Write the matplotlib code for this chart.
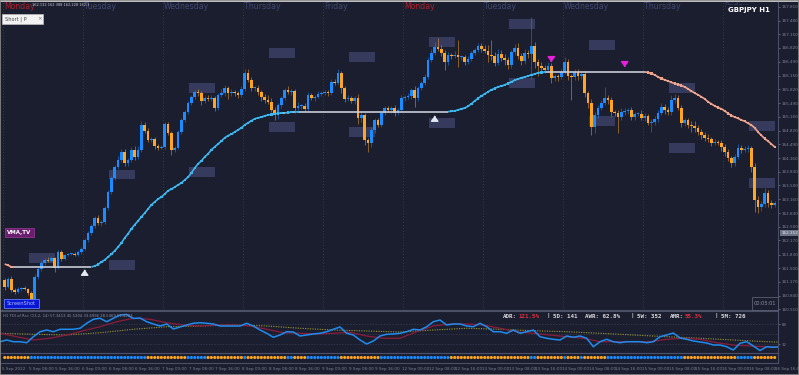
import numpy as np
import matplotlib
matplotlib.use("Agg")
import matplotlib.pyplot as plt
from matplotlib.patches import Rectangle
from matplotlib.collections import LineCollection

W, H = 799, 375
BG = "#1b1e2e"
GRID = "#363b55"
TXT = "#7d8296"
BULL = "#1a8cff"
BEAR = "#ffa51f"

# GBPJPY H1, 5 Sep 2022 00:00 -> 16 Sep 2022 15:00 (closes)
first_open = 161.22
closes = [
    # Mon 5 Sep
    161.05, 161.24, 160.98, 160.93, 161.00, 161.02, 161.00, 160.90, 160.73, 161.29, 161.48, 161.63,
    161.70, 161.68, 161.75, 161.51, 161.89, 161.72, 161.82, 161.84, 161.84, 161.83, 161.89, 161.97,
    # Tue 6 Sep
    162.18, 162.35, 162.52, 162.71, 162.59, 162.62, 162.96, 163.34, 163.68, 163.95, 164.12, 164.31,
    164.04, 164.12, 164.36, 164.19, 164.36, 164.96, 164.82, 164.60, 164.62, 164.45, 164.41, 164.43,
    # Wed 7 Sep
    164.98, 164.77, 164.36, 164.41, 164.79, 165.08, 165.27, 165.49, 165.64, 165.76, 165.73, 165.54,
    165.61, 165.59, 165.61, 165.37, 165.69, 165.73, 165.85, 165.73, 165.76, 165.73, 165.69, 165.83,
    # Thu 8 Sep
    166.22, 166.05, 165.85, 165.85, 165.76, 165.64, 165.57, 165.52, 165.32, 165.20, 165.44, 165.61,
    165.81, 165.76, 165.78, 165.37, 165.42, 165.42, 165.35, 165.69, 165.61, 165.64, 165.71, 165.73,
    # Fri 9 Sep
    165.76, 165.73, 166.00, 165.98, 166.22, 165.85, 165.59, 165.61, 165.54, 165.61, 165.13, 165.20,
    164.60, 164.53, 164.84, 165.08, 164.96, 165.25, 165.37, 165.32, 165.37, 165.25, 165.32, 165.61,
    # Mon 12 Sep
    165.64, 165.66, 165.81, 165.61, 165.85, 165.98, 166.12, 166.53, 166.70, 166.84, 166.80, 166.70,
    166.48, 166.65, 166.63, 166.65, 166.60, 166.60, 166.48, 166.56, 166.70, 166.77, 166.87, 166.80,
    # Tue 13 Sep
    166.75, 166.65, 166.63, 166.46, 166.68, 166.58, 166.53, 166.41, 166.72, 166.82, 166.63, 166.51,
    166.70, 166.68, 166.87, 166.48, 166.39, 166.34, 166.29, 166.39, 166.10, 166.14, 166.12, 166.24,
    # Wed 14 Sep
    166.48, 166.14, 166.12, 166.24, 166.14, 166.19, 165.73, 165.49, 164.91, 165.20, 165.37, 165.49,
    165.61, 165.57, 165.27, 165.25, 165.15, 165.27, 165.30, 165.32, 165.15, 165.23, 165.23, 165.13,
    # Thu 15 Sep
    165.18, 165.01, 165.03, 165.11, 165.25, 165.40, 165.32, 165.27, 165.57, 165.61, 165.37, 165.01,
    165.08, 164.96, 164.94, 164.89, 164.79, 164.72, 164.65, 164.62, 164.53, 164.55, 164.53, 164.43,
    # Fri 16 Sep
    164.31, 164.16, 164.04, 164.19, 164.41, 164.36, 164.38, 164.41, 163.95, 163.15, 162.98, 163.05,
    163.32, 163.08, 163.03, 163.08,
]
# wick lengths above / below the body, in pips
wick_up = [
    5, 4, 6, 3, 4, 3, 4, 3, 5, 6, 5, 4, 4, 6, 5, 3, 6, 4, 3, 3, 3, 4, 4, 5,
    4, 6, 5, 6, 8, 5, 5, 6, 4, 5, 8, 6, 7, 5, 6, 10, 8, 9, 6, 7, 5, 6, 5, 4,
    6, 5, 4, 4, 5, 4, 4, 6, 5, 4, 8, 5, 6, 7, 8, 6, 5, 10, 7, 5, 6, 5, 4, 6,
    8, 10, 6, 5, 8, 5, 6, 12, 10, 8, 5, 6, 5, 8, 5, 4, 9, 5, 8, 6, 5, 4, 6, 4,
    4, 5, 8, 6, 10, 5, 6, 8, 5, 6, 10, 8, 6, 5, 8, 5, 6, 5, 4, 5, 4, 6, 5, 8,
    5, 6, 5, 8, 4, 5, 6, 8, 10, 12, 22, 10, 6, 8, 6, 10, 36, 6, 5, 6, 5, 6, 8, 6,
    8, 15, 36, 10, 12, 8, 10, 8, 6, 10, 12, 8, 10, 8, 70, 10, 8, 8, 6, 8, 6, 5, 4, 6,
    12, 8, 6, 8, 6, 6, 8, 6, 10, 8, 6, 8, 27, 8, 6, 6, 8, 10, 6, 5, 8, 5, 4, 8,
    6, 5, 8, 6, 8, 10, 6, 8, 12, 10, 8, 6, 5, 6, 10, 12, 6, 8, 6, 8, 5, 6, 4, 6,
    6, 8, 5, 8, 10, 6, 8, 6, 5, 8, 10, 8, 12, 8, 6, 5,
]
wick_dn = [
    8, 4, 5, 6, 3, 4, 3, 4, 7, 5, 4, 4, 5, 4, 4, 10, 4, 5, 3, 3, 3, 3, 3, 4,
    4, 5, 6, 4, 5, 8, 5, 6, 5, 6, 5, 6, 8, 6, 5, 8, 6, 5, 6, 5, 4, 8, 5, 4,
    5, 6, 12, 6, 4, 4, 5, 4, 5, 6, 6, 10, 5, 6, 6, 8, 6, 5, 6, 14, 8, 6, 7, 5,
    6, 5, 6, 7, 8, 10, 8, 6, 5, 12, 10, 6, 5, 5, 8, 12, 6, 8, 6, 5, 5, 6, 4, 5,
    5, 6, 5, 6, 5, 12, 8, 6, 5, 8, 15, 10, 12, 22, 10, 8, 6, 5, 6, 5, 6, 8, 5, 5,
    6, 5, 8, 22, 6, 5, 6, 5, 6, 5, 6, 8, 19, 6, 8, 6, 24, 8, 6, 5, 6, 5, 4, 8,
    6, 17, 10, 8, 6, 8, 12, 10, 8, 6, 8, 10, 8, 10, 60, 15, 25, 10, 8, 6, 12, 8, 10, 6,
    6, 10, 55, 8, 10, 6, 10, 12, 20, 15, 8, 6, 6, 10, 10, 8, 39, 8, 6, 8, 8, 6, 5, 6,
    8, 6, 22, 6, 8, 6, 10, 8, 6, 8, 6, 10, 8, 8, 15, 10, 8, 10, 8, 6, 8, 6, 5, 10,
    10, 8, 10, 6, 6, 8, 6, 8, 12, 29, 15, 10, 8, 10, 8, 6,
]

# VMA line, one value per bar
vma = ([161.60, 161.57] + [161.53] * 25 +
       [161.55, 161.59, 161.65, 161.70, 161.77, 161.84, 161.92, 162.01, 162.11, 162.23, 162.33, 162.45,
        162.55, 162.64, 162.74, 162.83, 162.93, 163.03, 163.10, 163.17, 163.22, 163.29, 163.37, 163.41,
        163.46, 163.51, 163.56, 163.63, 163.70, 163.80, 163.92, 164.02, 164.09, 164.19, 164.26, 164.36,
        164.43, 164.50, 164.57, 164.65, 164.70, 164.74, 164.79, 164.84, 164.89, 164.96, 165.01, 165.06,
        165.11, 165.13, 165.15, 165.18, 165.20, 165.21, 165.23, 165.24, 165.25, 165.25, 165.26, 165.27,
        165.27] +
       [165.28] * 46 +
       [165.29, 165.30, 165.32, 165.35, 165.37, 165.41, 165.47, 165.54, 165.60, 165.66, 165.71, 165.76,
        165.81, 165.84, 165.88, 165.90, 165.93, 165.96, 166.00, 166.04, 166.07, 166.10, 166.12, 166.14,
        166.17, 166.19, 166.22, 166.23] +
       [166.24] * 31 +
       [166.23, 166.20, 166.17, 166.12, 166.08, 166.05, 166.02, 165.99, 165.96, 165.94, 165.91, 165.88,
        165.83, 165.78, 165.73, 165.69, 165.64, 165.59, 165.52, 165.47, 165.42, 165.38, 165.35, 165.30,
        165.24, 165.19, 165.15, 165.12, 165.08, 165.05, 165.00, 164.96, 164.89, 164.79, 164.71, 164.63,
        164.57, 164.50, 164.43])

# session boxes (day index, top, bottom)
box_day = [0, 1, 1, 2, 2, 3, 3, 4, 4, 5, 5, 6, 6, 7, 7, 8, 8, 9, 9]
box_top = [161.87, 163.87, 161.70, 165.98, 163.95, 166.82, 165.03, 166.72, 164.91, 167.09,
           165.13, 167.52, 166.10, 167.01, 165.18, 165.98, 164.53, 165.06, 163.68]
box_bot = [161.63, 163.66, 161.46, 165.73, 163.70, 166.58, 164.79, 166.48, 164.67, 166.84,
           164.89, 167.28, 165.85, 166.77, 164.94, 165.73, 164.28, 164.82, 163.44]

up_bars, up_prices = [24, 129], [161.46, 165.18]
dn_bars, dn_prices = [164, 186], [166.48, 166.36]

day_names = ["Monday", "Tuesday", "Wednesday", "Thursday", "Friday",
             "Monday", "Tuesday", "Wednesday", "Thursday", "Friday"]
day_dates = [5, 6, 7, 8, 9, 12, 13, 14, 15, 16]
price_ticks = [167.810, 167.480, 167.150, 166.820, 166.490, 166.150, 165.820, 165.490, 165.160,
               164.820, 164.490, 164.160, 163.830, 163.500, 163.160, 162.830, 162.500, 162.170,
               161.830, 161.500, 161.170, 160.840, 160.510]

# TDI of RSI
tdi_rsi = [36.1, 39.2, 36.1, 36.1, 34.3, 45.1, 54.1, 57.2, 54.1, 58.5, 58.5, 58.5, 60.3, 69.3, 76.5,
           78.3, 72.1, 78.3, 84.2, 85.1, 77.9, 78.8, 72.1, 68.0, 64.4, 68.0, 59.0, 62.6, 66.2, 69.3,
           70.3, 69.3, 68.0, 64.4, 64.4, 64.4, 64.4, 69.3, 64.4, 57.2, 51.3, 44.1, 48.2, 54.1, 53.6,
           46.4, 48.2, 50.0, 51.3, 54.1, 58.5, 62.6, 51.3, 48.2, 39.2, 32.0, 37.4, 46.4, 49.5, 50.0,
           51.3, 54.1, 58.5, 57.2, 63.1, 72.1, 75.2, 66.2, 68.0, 68.0, 64.4, 63.1, 69.3, 63.1, 54.1,
           54.1, 51.3, 57.2, 51.3, 54.1, 57.2, 45.1, 42.3, 40.5, 39.2, 46.4, 44.1, 46.4, 42.3, 27.1,
           36.1, 40.5, 36.1, 34.3, 36.1, 36.1, 36.1, 34.3, 36.1, 45.1, 48.2, 51.8, 42.8, 40.5, 37.4,
           35.6, 33.8, 30.2, 30.2, 27.1, 21.2, 33.3, 36.1, 28.4, 20.3, 27.1, 26.1, 27.1]
tdi_signal = [51.3, 45.1, 39.2, 42.3, 48.2, 55.9, 63.1, 72.1, 78.3, 76.5, 70.3, 66.2, 64.4, 66.2,
              66.2, 64.4, 58.5, 52.3, 51.3, 50.0, 51.3, 53.1, 46.4, 42.3, 42.3, 54.1, 64.4, 68.0,
              68.0, 66.2, 60.3, 54.1, 51.3, 48.2, 45.1, 42.3, 36.1, 36.1, 36.1, 36.1, 40.5, 42.3,
              40.5, 34.3, 30.2, 28.4, 27.1, 27.1]
tdi_base = [51.3, 49.5, 48.2, 52.3, 58.5, 63.1, 64.4, 66.2, 64.4, 60.3, 57.2, 55.4, 53.6, 57.2,
            60.3, 58.5, 55.9, 54.1, 51.3, 48.2, 45.1, 42.3, 39.2, 36.1, 34.3]

# trend dots under the TDI panel: (colour, number of bars)
dot_runs = [("o", 8), ("b", 35), ("o", 12), ("b", 6), ("o", 11), ("b", 1), ("o", 12), ("b", 2),
            ("o", 4), ("b", 10), ("o", 12), ("b", 21), ("o", 24), ("b", 2), ("o", 8), ("b", 1),
            ("o", 4), ("b", 1), ("o", 7), ("b", 23), ("o", 16), ("b", 5), ("o", 7)]


def frac(x0, y0, x1, y1):
    return [x0 / W, 1 - y1 / H, (x1 - x0) / W, (y1 - y0) / H]


def ftext(x, y, s, **kw):
    fig.text(x / W, 1 - y / H, s, **kw)


def fbox(x0, y0, x1, y1, **kw):
    fig.add_artist(Rectangle((x0 / W, 1 - y1 / H), (x1 - x0) / W, (y1 - y0) / H,
                             transform=fig.transFigure, **kw))


fig = plt.figure(figsize=(W / 100, H / 100), dpi=100, facecolor=BG)
XL = (-1.41, 232.0)

# ---------- main price panel ----------
ax = fig.add_axes(frac(0, 2, 778, 310))
ax.set_facecolor(BG)
ax.set_xlim(*XL)
ax.set_ylim(160.49, 167.93)

for d in range(10):
    red = d in (0, 5)
    ax.axvline(24 * d - 0.5, color="#7a1f2c" if red else GRID, ls=(0, (1, 2)), lw=0.7, zorder=1)
    ax.text(24 * d - 0.2, 0.999, day_names[d], transform=ax.get_xaxis_transform(),
            ha="left", va="top", fontsize=5.6, color="#b0202c" if red else "#404870")

for dd, t, b in zip(box_day, box_top, box_bot):
    ax.add_patch(Rectangle((24 * dd + 7.3, b), 7.8, t - b, fc="#3a3f63", ec="none", alpha=0.9, zorder=2))

n = len(closes)
x = np.arange(n)
c = np.array(closes)
o = np.r_[first_open, c[:-1]]
hi = np.maximum(o, c) + np.array(wick_up) / 100
lo = np.minimum(o, c) - np.array(wick_dn) / 100
col = np.where(c >= o, BULL, BEAR)
body = np.maximum(np.abs(c - o), 0.015)
ax.vlines(x, lo, hi, colors=col, lw=0.7, alpha=0.5, zorder=3)
ax.bar(x, body, bottom=np.minimum(o, c), width=0.76, color=col, lw=0, zorder=4)

v = np.array(vma)
dv = np.diff(v)
seg_col = np.where(dv > 0.001, "#3cb6ee", np.where(dv < -0.001, "#f0a48c", "#c9ccd8"))
segs = [[(i, v[i]), (i + 1, v[i + 1])] for i in range(n - 1)]
ax.add_collection(LineCollection(segs, colors=seg_col, lw=1.2, zorder=5))
moving = np.abs(dv) > 0.001
ax.scatter(x[1:][moving], v[1:][moving], s=2.8, marker="s", c=seg_col[moving], lw=0, zorder=6)

for b, p in zip(up_bars, up_prices):
    ax.annotate("", xy=(b, p + 0.07), xytext=(b, p - 0.09),
                arrowprops=dict(arrowstyle="-|>,head_width=0.22,head_length=0.3", color="#e6e8f0", lw=1.1),
                zorder=7)
for b, p in zip(dn_bars, dn_prices):
    ax.annotate("", xy=(b, p - 0.07), xytext=(b, p + 0.09),
                arrowprops=dict(arrowstyle="-|>,head_width=0.22,head_length=0.3", color="#e81ee0", lw=1.1),
                zorder=7)

ax.yaxis.tick_right()
ax.set_yticks(price_ticks)
ax.set_yticklabels([f"{p:.3f}" for p in price_ticks])
ax.tick_params(axis="y", colors=TXT, labelsize=3, length=1.5, width=0.5, pad=1)
ax.tick_params(axis="x", bottom=False, labelbottom=False)
for s in ax.spines.values():
    s.set_color("#4b5068")
    s.set_linewidth(0.8)
ax.spines["left"].set_visible(False)
ax.spines["top"].set_visible(False)

ax.text(1.004, 162.35, "162.352", transform=ax.get_yaxis_transform(), fontsize=3, color="#e4e6ee",
        va="center", ha="left", bbox=dict(boxstyle="square,pad=0.15", fc="#6e7386", ec="none"))

# ---------- TDI panel ----------
ax2 = fig.add_axes(frac(0, 311, 778, 353))
ax2.set_facecolor(BG)
ax2.set_xlim(*XL)
ax2.set_ylim(15.8, 91.4)
for lvl in (68, 50, 32):
    ax2.axhline(lvl, color="#3a3f58", ls=(0, (2, 2)), lw=0.5)
ax2.plot(np.arange(len(tdi_base)) * 10 - 1.4, tdi_base, color="#9c9a2e", lw=0.8, ls=(0, (1, 1.2)))
ax2.plot(np.arange(len(tdi_signal)) * 5 - 1.4, tdi_signal, color="#8c1c3c", lw=0.9)
ax2.plot(np.arange(len(tdi_rsi)) * 2 - 1.4, tdi_rsi, color="#1e8cf0", lw=1.1)
ax2.yaxis.tick_right()
ax2.set_yticks([68, 32])
ax2.tick_params(axis="y", colors=TXT, labelsize=2.8, length=1.5, width=0.5, pad=1)
ax2.tick_params(axis="x", bottom=False, labelbottom=False)
for s in ax2.spines.values():
    s.set_color("#4b5068")
    s.set_linewidth(0.8)
ax2.spines["left"].set_visible(False)

# ---------- trend dots ----------
ax3 = fig.add_axes(frac(0, 353, 778, 363))
ax3.set_facecolor(BG)
ax3.set_xlim(*XL)
ax3.set_ylim(0, 1)
dot_col = []
for cc, k in dot_runs:
    dot_col += [BEAR if cc == "o" else BULL] * k
ax3.scatter(np.arange(len(dot_col)), np.full(len(dot_col), 0.55), s=5, c=dot_col, lw=0)
ax3.set_yticks([])
ax3.tick_params(axis="x", bottom=False, labelbottom=False)
for s in ax3.spines.values():
    s.set_color("#4b5068")
    s.set_linewidth(0.8)
ax3.spines["left"].set_visible(False)

k = 0
for dd in day_dates:
    for hh in ("00:00", "08:00", "16:00"):
        lab = "5 Sep 2022" if k == 0 else f"{dd} Sep {hh}"
        ax3.text(8 * k - 0.8, -0.6, lab, transform=ax3.get_xaxis_transform(), fontsize=3,
                 color=TXT, ha="left", va="center", clip_on=False)
        k += 1

# ---------- overlays / labels ----------
ftext(770, 10, "GBPJPY H1", fontsize=5, weight="bold", color="white", ha="right", va="center",
      bbox=dict(boxstyle="square,pad=0.25", fc=BG, ec="none"))
ftext(32, 5, "162.132 162.388 162.228 162.3", fontsize=2.6, color="#c8c8d0", va="center")
fbox(2, 14, 43, 24, fc="#f2f2f2", ec="#bdbdbd", lw=0.5)
ftext(5, 19, "Short | P", fontsize=3.6, color="#444444", va="center")
ftext(37, 19, "×", fontsize=4, color="#777777", va="center")
fbox(5, 228, 34, 237, fc="#6b1d6e", ec="#9a3e9e", lw=0.5)
ftext(19.5, 232.5, "VMA,TV", fontsize=4, weight="bold", color="white", ha="center", va="center")
fbox(4, 299, 39, 308, fc="#0b16d4", ec="#5b7cff", lw=0.6)
ftext(21.5, 303.5, "ScreenShot", fontsize=3.6, color="#a9c1ff", ha="center", va="center")
fbox(752, 297, 778, 310, fc=BG, ec="#5a5f73", lw=0.6)
ftext(765, 303.5, "00:05:01", fontsize=3.6, color="#8a8fa3", ha="center", va="center")

ftext(3, 316, "H1 TDI of Rsi: (13,2, 14) 57.3413 45.5204 33.6996 28.5469 51.4203",
      fontsize=2.7, color="#8a8fa3", va="center")
white, red = "#d8d8dc", "#e0303a"
adr_parts = [(503, "ADR:", white), (518, "121.5%", red), (547, "|", white), (553, "5D: 141", white),
             (585, "AWR: 62.8%", white), (631, "|", white), (637, "5W: 352", white),
             (670, "AMR:", white), (685, "55.3%", red), (714, "|", white), (721, "5M: 726", white)]
for px, s, cc in adr_parts:
    ftext(px, 316, s, fontsize=4.2, family="DejaVu Sans Mono", weight="bold", color=cc, va="center")

fbox(0, 0, W, 2, fc="#bdbdbd", ec="none")
fig.add_artist(Rectangle((0, 0), 1, 1, transform=fig.transFigure, fill=False, ec="#8c8c8c", lw=1.2))

fig.savefig("out.png", dpi=100, facecolor=BG)
